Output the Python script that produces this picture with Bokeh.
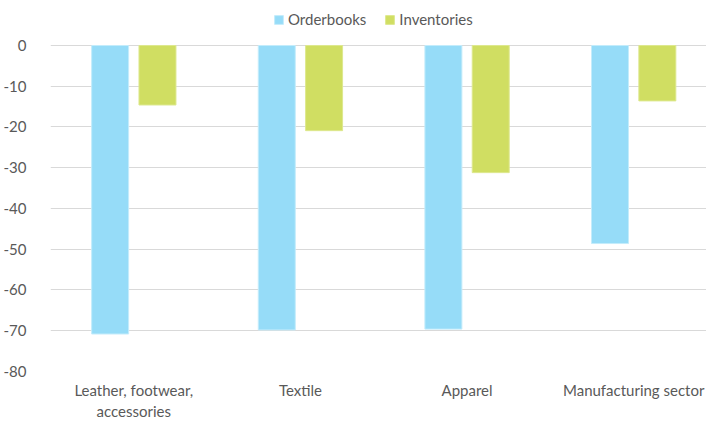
from bokeh.plotting import figure
from bokeh.models import ColumnDataSource, Range1d, FixedTicker, Legend, LegendItem
from bokeh.transform import dodge
from bokeh.embed import file_html
from bokeh.resources import INLINE

categories = ["Leather, footwear,\naccessories", "Textile", "Apparel", "Manufacturing sector"]
orderbooks = [-70.8, -69.8, -69.6, -48.6]
inventories = [-14.6, -20.9, -31.2, -13.6]
y_ticks = [-80, -70, -60, -50, -40, -30, -20, -10, 0]

xs = list(range(len(categories)))
src = ColumnDataSource(dict(x=xs, ob=orderbooks, inv=inventories))

FONT = "Lato"
TXT = "#595959"
FS = "15px"

# frame spans the full top; the space above 0 holds the legend
p = figure(width=706, height=423, output_backend="svg", toolbar_location=None,
           x_range=Range1d(-0.5, 3.437), y_range=Range1d(-80, 11.04),
           min_border_left=50, min_border_right=0, min_border_top=0, min_border_bottom=52)
p.outline_line_color = None
p.background_fill_color = "white"
p.border_fill_color = "white"

r1 = p.vbar(x=dodge("x", -0.142, range=p.x_range), top="ob", bottom=0, width=0.222,
            source=src, fill_color="#96DCF8", line_color="#C4ECFB", line_width=1)
r2 = p.vbar(x=dodge("x", 0.142, range=p.x_range), top="inv", bottom=0, width=0.222,
            source=src, fill_color="#D0DE62", line_color="#DDE88E", line_width=1)

p.xgrid.visible = False
p.ygrid.grid_line_color = "#D9D9D9"
p.ygrid.grid_line_width = 1.2
p.ygrid.ticker = FixedTicker(ticks=y_ticks)
r1.level = "overlay"
r2.level = "overlay"

p.yaxis.ticker = FixedTicker(ticks=y_ticks)
p.yaxis.major_label_overrides = {t: str(t) for t in y_ticks}
p.yaxis.axis_line_color = None
p.yaxis.major_tick_line_color = None
p.yaxis.minor_tick_line_color = None
p.yaxis.major_label_text_font = FONT
p.yaxis.major_label_text_font_size = FS
p.yaxis.major_label_text_color = TXT
p.yaxis.major_label_standoff = 18

p.xaxis.ticker = FixedTicker(ticks=xs)
p.xaxis.major_label_overrides = {i: c for i, c in zip(xs, categories)}
p.xaxis.axis_line_color = None
p.xaxis.major_tick_line_color = None
p.xaxis.minor_tick_line_color = None
p.xaxis.major_label_text_font = FONT
p.xaxis.major_label_text_font_size = FS
p.xaxis.major_label_text_color = TXT
p.xaxis.major_label_standoff = 3

legend = Legend(items=[LegendItem(label="Orderbooks", renderers=[r1]),
                       LegendItem(label="Inventories", renderers=[r2])],
                orientation="horizontal", location=(223, 343),
                padding=0, margin=0, spacing=18, label_standoff=4,
                glyph_width=11, glyph_height=11, label_height=16,
                label_text_font=FONT, label_text_font_size=FS, label_text_color=TXT,
                border_line_color=None, background_fill_alpha=0)
p.add_layout(legend, "center")

open("out.html", "w").write(file_html(p, INLINE))
